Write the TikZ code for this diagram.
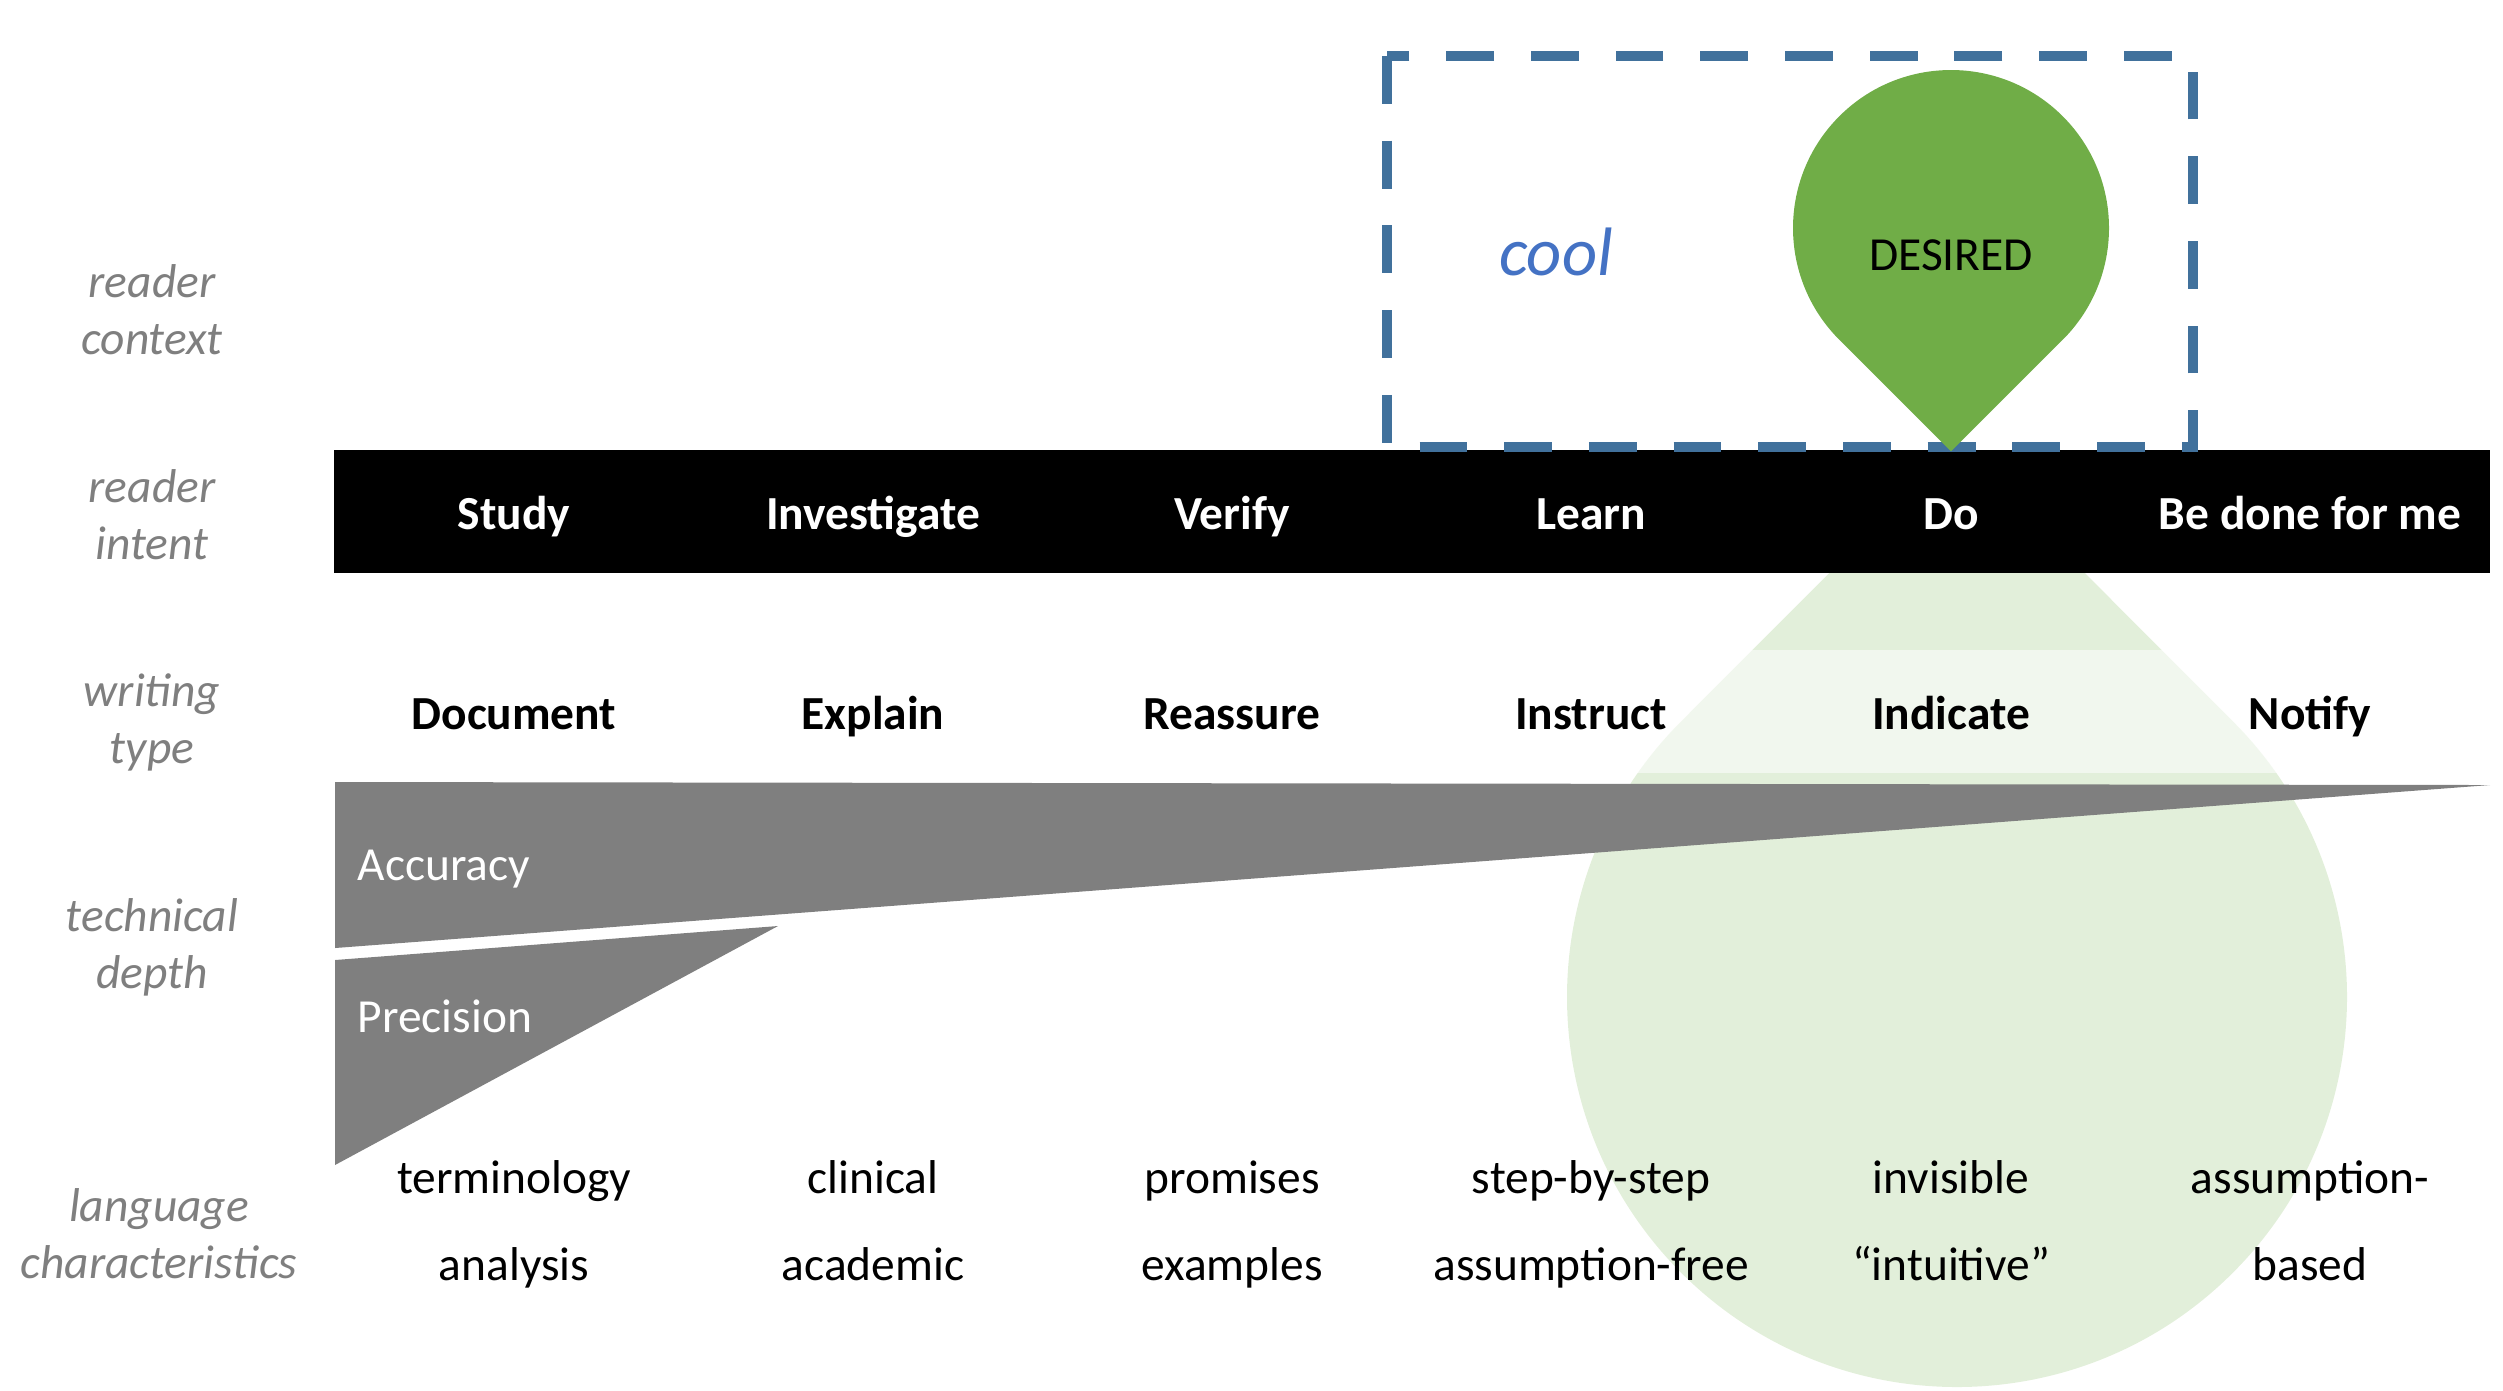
\documentclass[tikz,border=0pt]{standalone}
\usepackage{fontspec}
\setmainfont{Carlito}
\usetikzlibrary{calc}
\definecolor{dropgreen}{RGB}{112,173,71}
\definecolor{palegreen}{RGB}{226,239,218}
\definecolor{boxblue}{RGB}{65,113,156}
\definecolor{coolblue}{RGB}{68,114,196}
\definecolor{labelgray}{RGB}{127,127,127}
\definecolor{wedgegray}{RGB}{127,127,127}
\newcommand\bodysize{\fontsize{13.5}{16.2}\selectfont}
\tikzset{
  rowlabel/.style={font=\bodysize\itshape, text=labelgray, align=center, inner sep=0},
  intent/.style={font=\bodysize\bfseries, text=white, anchor=base, inner sep=0},
  wtype/.style={font=\bodysize\bfseries, anchor=base, inner sep=0},
  lang/.style={font=\bodysize, anchor=base, inner sep=0},
  wedgetxt/.style={font=\bodysize, text=white, anchor=base west, inner sep=0},
}
\begin{document}
\begin{tikzpicture}
  \useasboundingbox (0,0) rectangle (25.03,-13.90);
  % pale drop behind the lower rows
  \coordinate (paletip) at (19.57,-4.45);
  \coordinate (palec) at (19.57,-9.97);
  \fill[palegreen] (paletip) -- ($(palec)+(135:3.9)$) arc[start angle=135, end angle=405, radius=3.9] -- cycle;
  \fill[white, opacity=.55] (3.34,-6.50) rectangle (24.90,-7.73);
  % technical depth wedges
  \fill[wedgegray] (3.35,-7.82) -- (24.90,-7.85) -- (3.35,-9.48) -- cycle;
  \fill[wedgegray] (3.35,-9.60) -- (7.78,-9.26) -- (3.35,-11.65) -- cycle;
  \node[wedgetxt] (acc) at (3.57,-8.80) {Accuracy};
  \node[wedgetxt] (prec) at (3.57,-10.32) {Precision};
  % intent bar
  \fill (3.34,-4.50) rectangle (24.90,-5.73);
  % row labels
  \node[rowlabel] (ctx) at (1.52,-3.15) {reader\strut\\context\strut};
  \node[rowlabel] (int) at (1.52,-5.20) {reader\strut\\intent\strut};
  \node[rowlabel] (wrt) at (1.52,-7.24) {writing\strut\\type\strut};
  \node[rowlabel] (tec) at (1.52,-9.49) {technical\strut\\depth\strut};
  \node[rowlabel] (lng) at (1.59,-12.39) {language\strut\\characteristics\strut};
  % columns
  \foreach \n/\x/\a/\b/\c/\d in {1/5.14/Study/Document/terminology/analysis,
      2/8.73/Investigate/Explain/clinical/academic,
      3/12.32/Verify/Reassure/promises/examples,
      4/15.91/Learn/Instruct/step-by-step/assumption-free,
      5/19.51/Do/Indicate/invisible/“intuitive”,
      6/23.10/Be done for me/Notify/assumption-/based}
  {
    \node[intent] (intent\n) at (\x,-5.29) {\a};
    \node[wtype] (type\n) at (\x,-7.29) {\b};
    \node[lang] (langa\n) at (\x,-11.93) {\c};
    \node[lang] (langb\n) at (\x,-12.80) {\d};
  }
  % reader context
  \draw[boxblue, line width=3.1pt, dash pattern=on 13.6pt off 10.5pt] (13.87,-0.56) rectangle (21.93,-4.47);
  \node[font=\fontsize{19.5}{23}\selectfont\itshape, text=coolblue, inner sep=0] (cool) at (15.56,-2.52) {cool};
  \coordinate (droptip) at (19.51,-4.514);
  \coordinate (dropc) at (19.51,-2.28);
  \fill[dropgreen] (droptip) -- ($(dropc)+(-45:1.58)$) arc[start angle=-45, end angle=225, radius=1.58] -- cycle;
  \node[font=\bodysize, inner sep=0] (desired) at (19.51,-2.55) {DESIRED};
\end{tikzpicture}
\end{document}
